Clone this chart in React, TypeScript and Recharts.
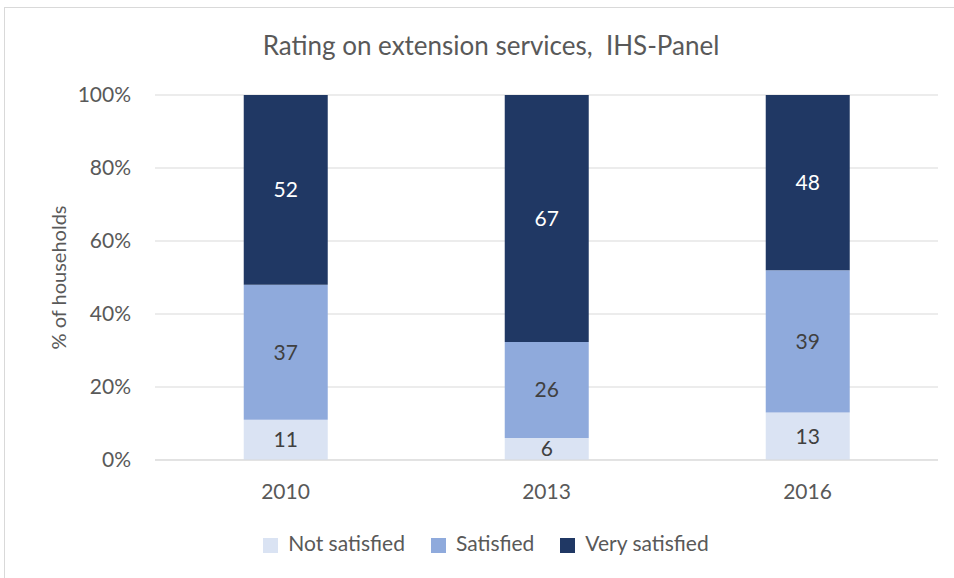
import { Bar, BarChart, CartesianGrid, LabelList, Legend, XAxis, YAxis } from "recharts";

const years = ["2010", "2013", "2016"];
const notSatisfied = [11, 6, 13];
const satisfied = [37, 26, 39];
const verySatisfied = [52, 67, 48];

const data = years.map((year, i) => ({
  year,
  notSatisfied: notSatisfied[i],
  satisfied: satisfied[i],
  verySatisfied: verySatisfied[i],
}));

const font = "Lato, 'Open Sans', sans-serif";
const textGray = "#595959";

export default function App() {
  return (
    <div
      style={{
        position: "absolute",
        top: 0,
        left: 0,
        width: 954,
        height: 578,
        overflow: "hidden",
        background: "#fff",
        fontFamily: font,
      }}
    >
      <div
        style={{
          position: "absolute",
          left: 4,
          top: 7,
          width: 1000,
          height: 620,
          border: "1.5px solid #d9d9d9",
        }}
      />
      <div
        style={{
          position: "absolute",
          top: 29,
          left: 14,
          width: 954,
          textAlign: "center",
          fontSize: 26,
          color: textGray,
        }}
      >
        Rating on extension services,&nbsp; IHS-Panel
      </div>
      <BarChart
        width={954}
        height={578}
        data={data}
        stackOffset="expand"
        barCategoryGap="34%"
        margin={{ top: 95, right: 16, left: 95, bottom: 48 }}
        style={{ position: "absolute", top: 0, left: 0 }}
      >
        <CartesianGrid vertical={false} stroke="#d9d9d9" />
        <XAxis
          dataKey="year"
          height={30}
          tickLine={false}
          axisLine={{ stroke: "#d9d9d9" }}
          tickMargin={18}
          tick={{ fontSize: 21, fill: textGray, fontFamily: font }}
        />
        <YAxis
          width={60}
          domain={[0, 1]}
          ticks={[0, 0.2, 0.4, 0.6, 0.8, 1]}
          tickFormatter={(v: number) => `${Math.round(v * 100)}%`}
          tickLine={false}
          axisLine={false}
          tickMargin={18}
          tick={{ fontSize: 21, fill: textGray, fontFamily: font }}
          label={{
            value: "% of households",
            angle: -90,
            position: "left",
            offset: 36,
            style: { fontSize: 20, fill: textGray, fontFamily: font, textAnchor: "middle" },
          }}
        />
        <Legend
          height={40}
          iconType="square"
          iconSize={15}
          wrapperStyle={{ top: 530, left: 36, width: 926, fontSize: 21, color: textGray }}
          formatter={(value: string) => (
            <span style={{ color: textGray, marginLeft: 6, marginRight: 16 }}>{value}</span>
          )}
        />
        <Bar dataKey="notSatisfied" name="Not satisfied" stackId="a" fill="#dae3f3" isAnimationActive={false}>
          <LabelList dataKey="notSatisfied" position="center" fill="#404040" fontSize={21} fontFamily={font} />
        </Bar>
        <Bar dataKey="satisfied" name="Satisfied" stackId="a" fill="#8faadc" isAnimationActive={false}>
          <LabelList dataKey="satisfied" position="center" fill="#404040" fontSize={21} fontFamily={font} />
        </Bar>
        <Bar dataKey="verySatisfied" name="Very satisfied" stackId="a" fill="#203864" isAnimationActive={false}>
          <LabelList dataKey="verySatisfied" position="center" fill="#ffffff" fontSize={21} fontFamily={font} />
        </Bar>
      </BarChart>
    </div>
  );
}
